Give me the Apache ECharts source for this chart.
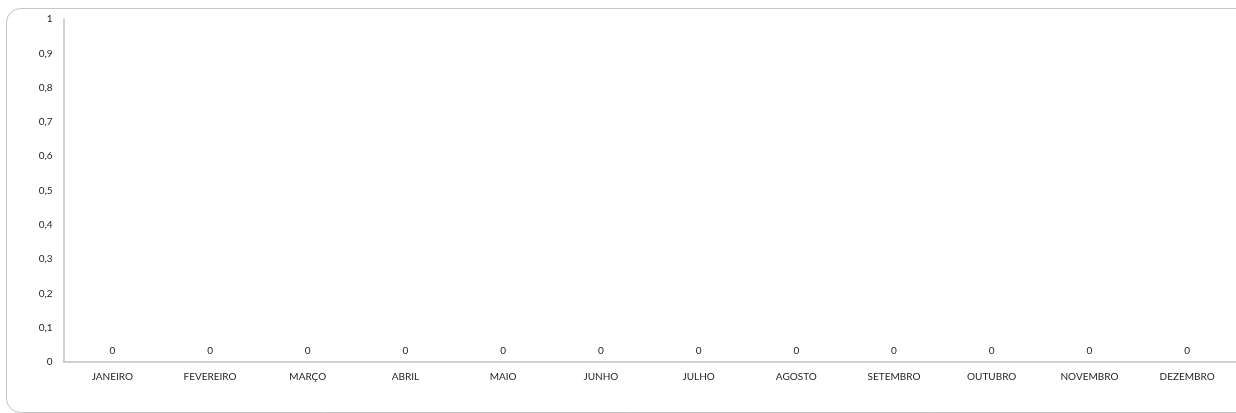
<!DOCTYPE html>
<html>
<head>
<meta charset="utf-8">
<script src="https://cdn.jsdelivr.net/npm/echarts@6/dist/echarts.min.js"></script>
<style>html,body{margin:0;padding:0;background:#fff}#c{width:1236px;height:413px}</style>
</head>
<body>
<div id="c"></div>
<script>
const categories = ['JANEIRO','FEVEREIRO','MARÇO','ABRIL','MAIO','JUNHO','JULHO','AGOSTO','SETEMBRO','OUTUBRO','NOVEMBRO','DEZEMBRO'];
const values = [0,0,0,0,0,0,0,0,0,0,0,0];
const yMin = 0, yMax = 1, yStep = 0.1;

const chart = echarts.init(document.getElementById('c'), null, {renderer:'canvas'});
const font = 'Lato';
const txt = '#1e1e1e';
chart.setOption({
  animation: false,
  backgroundColor: '#fff',
  graphic: [{
    type: 'rect', left: 4, top: 6, z: -1,
    shape: {width: 1260, height: 404, r: 14},
    style: {fill: 'none', stroke: '#c4c4c4', lineWidth: 1}
  }],
  grid: {left: 63.5, top: 19, width: 1182, height: 343, containLabel: false},
  xAxis: {
    type: 'category', data: categories,
    axisLine: {lineStyle: {color: '#c0c0c0', width: 1.5}},
    axisTick: {show: false},
    axisLabel: {color: txt, fontFamily: font, fontSize: 10, margin: 10, interval: 0}
  },
  yAxis: {
    type: 'value', min: yMin, max: yMax, interval: yStep,
    axisLine: {show: true, lineStyle: {color: '#c0c0c0', width: 1.5}},
    axisTick: {show: false},
    splitLine: {show: false},
    axisLabel: {color: txt, fontFamily: font, fontSize: 10, margin: 11,
      formatter: v => String(+v.toFixed(1)).replace('.', ',')}
  },
  series: [{
    type: 'bar', data: values, barWidth: '60%',
    itemStyle: {color: '#4f81bd'},
    label: {show: true, position: 'top', distance: 6, color: txt, fontFamily: font, fontSize: 10}
  }]
});
</script>
</body>
</html>
